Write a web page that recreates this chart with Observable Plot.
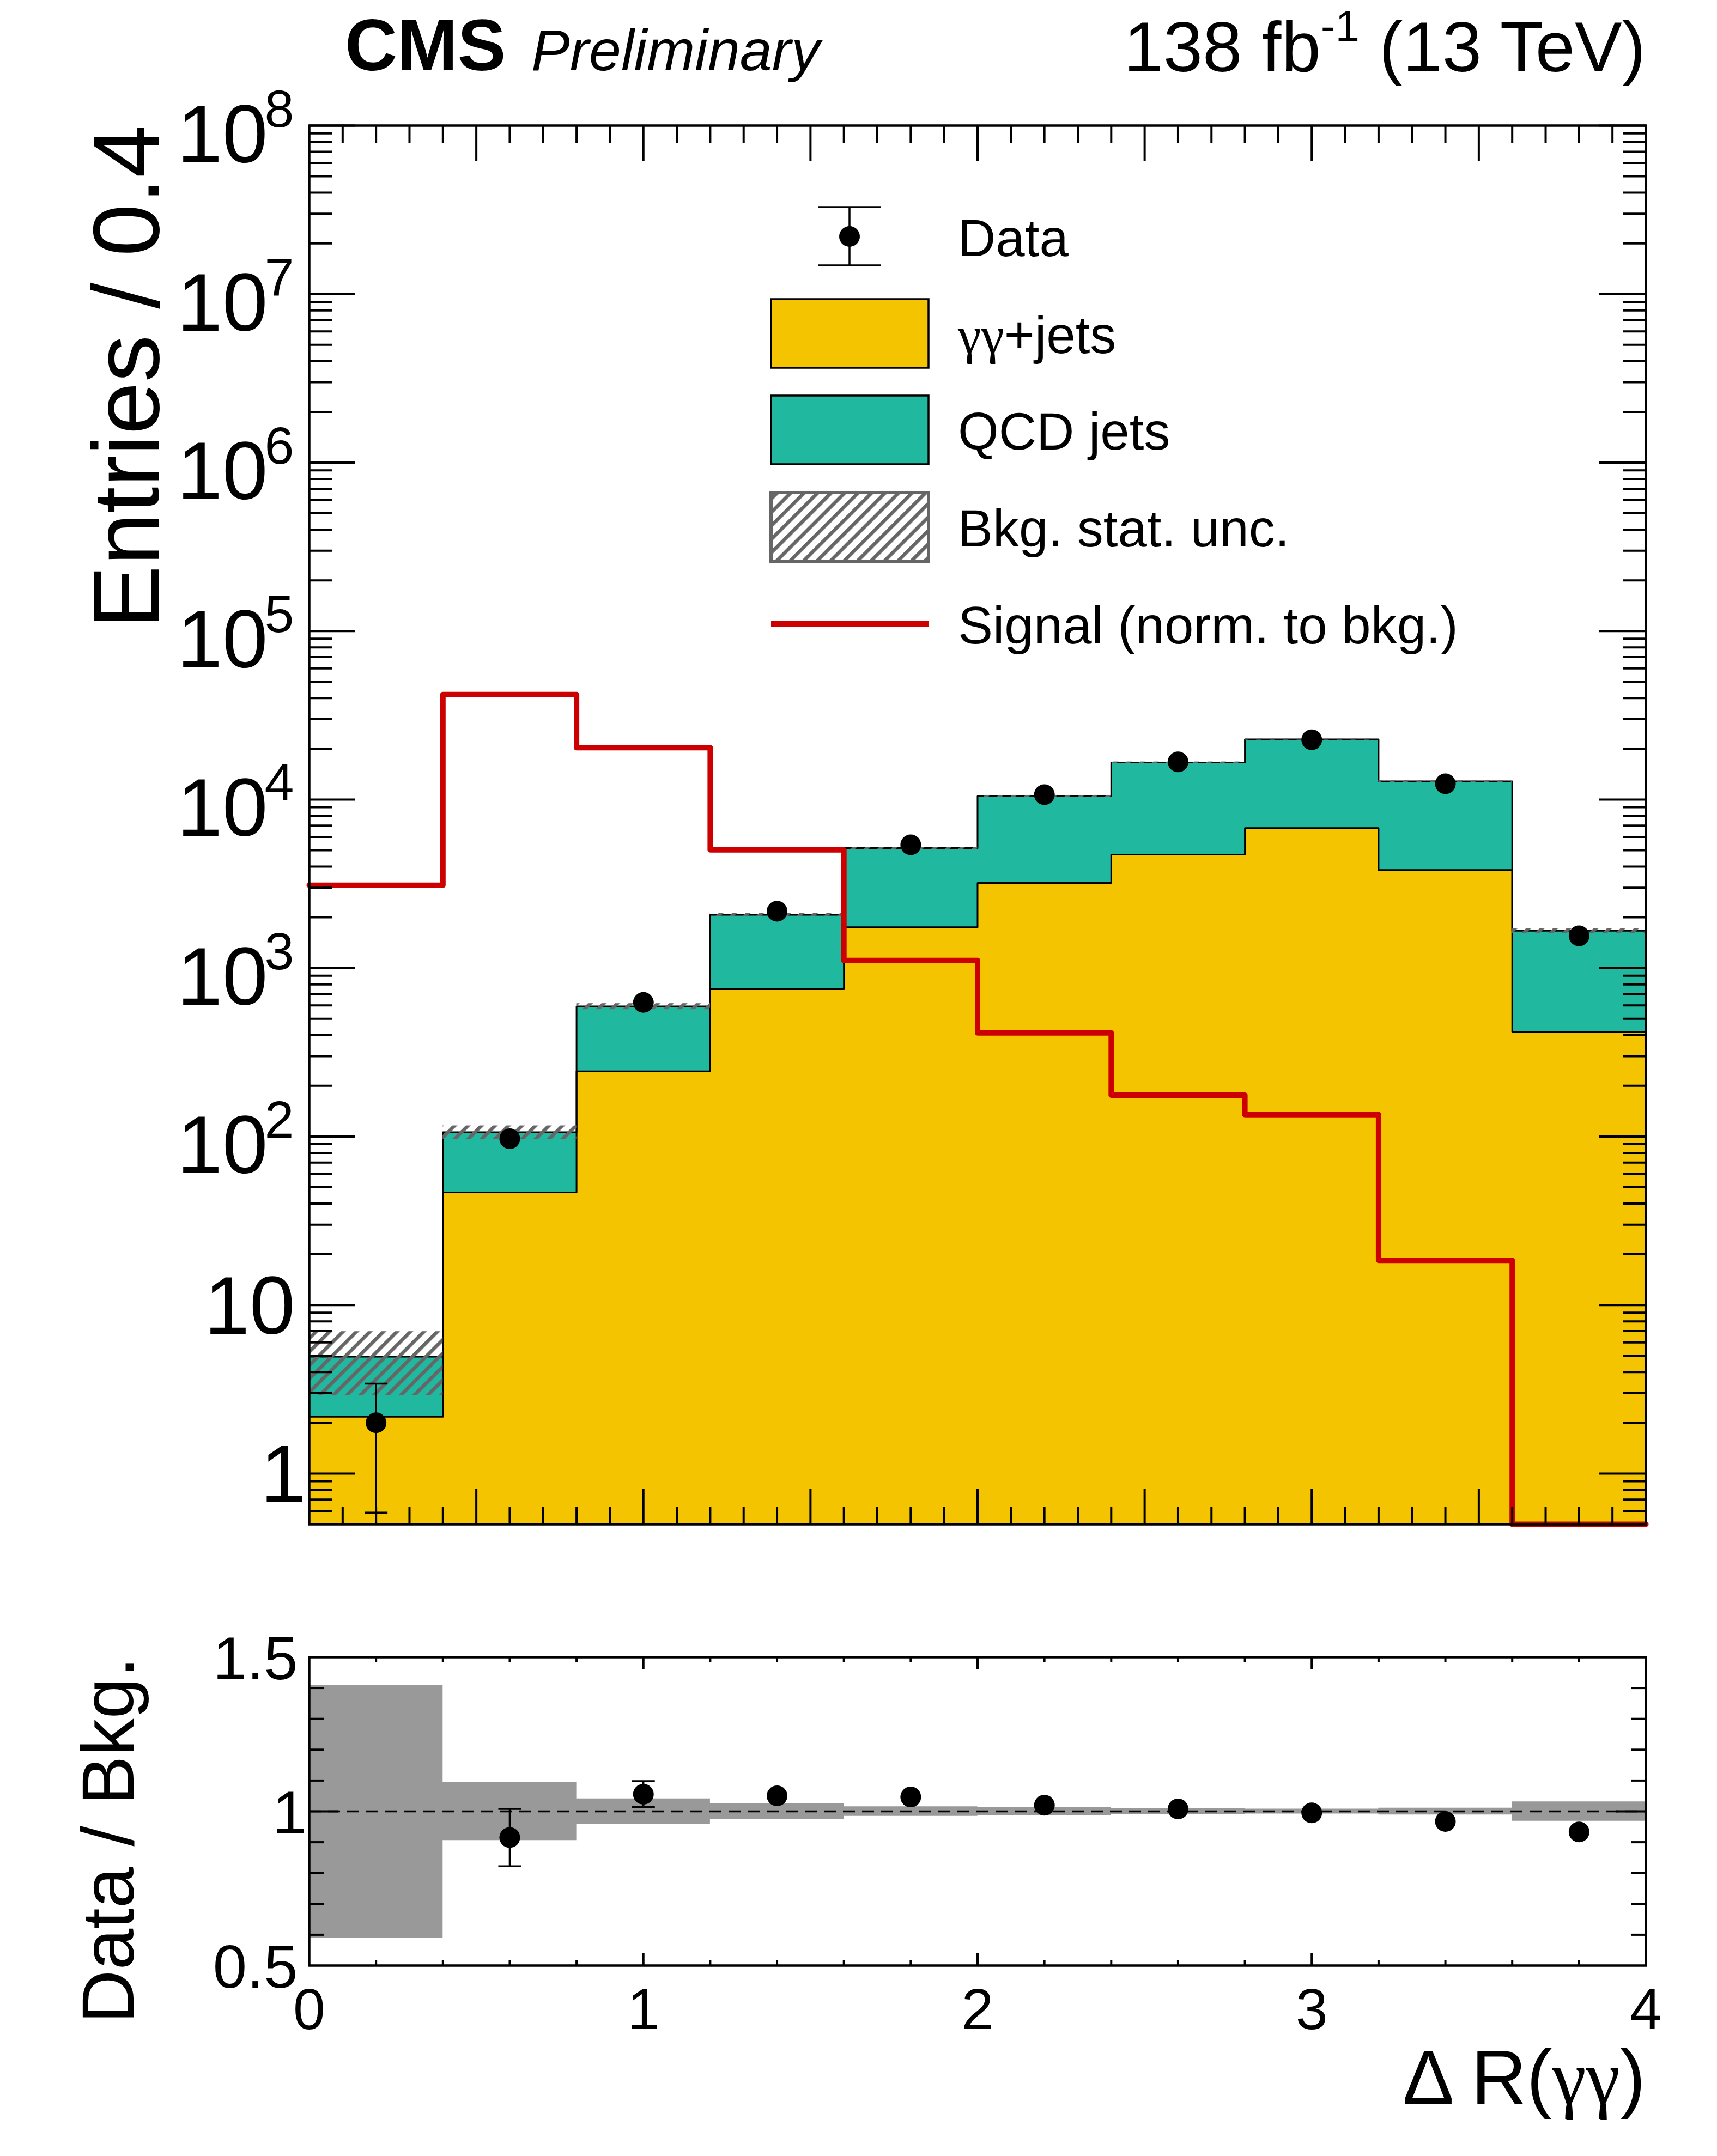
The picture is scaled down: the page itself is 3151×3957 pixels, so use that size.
<!DOCTYPE html>
<html><head><meta charset="utf-8">
<script src="https://cdn.jsdelivr.net/npm/d3@7"></script>
<script src="https://cdn.jsdelivr.net/npm/@observablehq/plot@0.6"></script>
<style>
html,body{margin:0;padding:0;background:#fff;}
#wrap{position:relative;width:3151px;height:3957px;overflow:hidden;background:#fff;}
#wrap > svg{position:absolute;left:0;}
</style></head>
<body><div id="wrap"></div>
<script>
// ---------------- data ----------------
const binEdges   = [0, 0.4, 0.8, 1.2, 1.6, 2.0, 2.4, 2.8, 3.2, 3.6, 4.0];
const gjets      = [2.17, 46.6, 244, 749, 1746, 3200, 4710, 6780, 3820, 419];       // γγ+jets
const qcd        = [2.77, 59.4, 348, 1321, 3404, 7280, 11890, 15970, 9000, 1245];  // QCD jets
const bkgRelUnc  = [0.41, 0.094, 0.041, 0.025, 0.0155, 0.013, 0.0095, 0.008, 0.011, 0.0315];
const dataCounts = [2, 97, 625, 2174, 5390, 10690, 16730, 22640, 12400, 1553];
const signal     = [3100, 42000, 20300, 5030, 1110, 412, 176, 135, 18.4, 0];

const yMainTickValues = [1, 10, 1e2, 1e3, 1e4, 1e5, 1e6, 1e7, 1e8];
const yMainTickBase   = ["1", "10", "10", "10", "10", "10", "10", "10", "10"];
const yMainTickExp    = ["", "", "2", "3", "4", "5", "6", "7", "8"];
const yRatioTickValues = [0.5, 1, 1.5];
const yRatioTickLabels = ["0.5", "1", "1.5"];
const xTickValues = [0, 1, 2, 3, 4];
const xTickLabels = ["0", "1", "2", "3", "4"];

const legendLabels = ["Data", "γγ+jets", "QCD jets", "Bkg. stat. unc.", "Signal (norm. to bkg.)"];

// ---------------- style ----------------
const FONT = "Liberation Sans, Arial, Helvetica, sans-serif";
const SERIF = "Liberation Serif, Times New Roman, serif";
const YELLOW = "#F4C400", TEAL = "#21B8A0", RED = "#CC0000", BAND = "#999999", HATCH = "#666666";
const W = 3151, ML = 567, MR = 131, FW = W - ML - MR;
const H1 = 2900, MT1 = 230, MB1 = 103, FH1 = H1 - MT1 - MB1;
const H2 = 1057, MT2 = 141, MB2 = 350, FH2 = H2 - MT2 - MB2;
const yMin = 0.5, yMax = 1e8;
const R = 19;

const bins = gjets.map((g, i) => {
  const tot = g + qcd[i];
  return {lo: binEdges[i], hi: binEdges[i + 1], mid: (binEdges[i] + binEdges[i + 1]) / 2,
    g, tot, rel: bkgRelUnc[i], unc: tot * bkgRelUnc[i],
    data: dataCounts[i], err: Math.sqrt(dataCounts[i]), sig: signal[i],
    ratio: dataCounts[i] / tot, rerr: Math.sqrt(dataCounts[i]) / tot};
});
// step contour points (each bin contributes its two edges)
const stepPts = bins.flatMap(b => [{...b, x: b.lo}, {...b, x: b.hi}]);

const cap = {draw(ctx) { ctx.moveTo(-21, 0); ctx.lineTo(21, 0); }};

// tick positions (axis structure)
const xMinorMain = d3.range(1, 40).map(i => i / 10).filter(v => Math.abs(v * 2 - Math.round(v * 2)) > 1e-6);
const xMajorMain = [0.5, 1, 1.5, 2, 2.5, 3, 3.5];
const yMinorMain = [];
for (let e = -1; e < 8; e++) for (let k = 2; k <= 9; k++) { const v = k * 10 ** e; if (v > yMin * 1.001 && v < yMax) yMinorMain.push(v); }
const xMinorRatio = d3.range(1, 20).map(i => i / 5).filter(v => Math.abs(v - Math.round(v)) > 1e-6);
const xMajorRatio = [1, 2, 3];
const yMinorRatio = d3.range(6, 15).map(i => i / 10).filter(v => Math.abs(v - 1) > 1e-6);

// error bars are drawn only when they stick out of the marker (ROOT behaviour)
const yMainPx = d3.scaleLog().domain([yMin, yMax]).range([H1 - MB1, MT1]);
const yRatioPx = d3.scaleLinear().domain([0.5, 1.5]).range([H2 - MB2, MT2]);
const mainErr = bins.filter(b => Math.abs(yMainPx(b.data + b.err) - yMainPx(b.data)) > R);
const ratioPts = bins.filter(b => b.ratio >= 0.5 && b.ratio <= 1.5);
const ratioErr = ratioPts.filter(b => Math.abs(yRatioPx(b.ratio + b.rerr) - yRatioPx(b.ratio)) > R);

const wrap = document.getElementById("wrap");

// ---------------- overlay (defs, titles, legend) ----------------
const ov = d3.create("svg").attr("width", W).attr("height", 3957)
  .style("top", "0px").style("z-index", 2).attr("font-family", FONT);
const defs = ov.append("defs");
const pat = defs.append("pattern").attr("id", "hatch").attr("patternUnits", "userSpaceOnUse")
  .attr("width", 17.5).attr("height", 17.5).attr("patternTransform", "rotate(45)");
pat.append("rect").attr("x", 0).attr("y", 0).attr("width", 6.5).attr("height", 17.5).attr("fill", HATCH);

function greekText(sel, str) {
  for (const part of str.split(/(γ+)/)) {
    if (!part) continue;
    const t = sel.append("tspan").text(part);
    if (/γ/.test(part)) t.attr("font-family", SERIF);
  }
}

ov.append("text").attr("x", 633).attr("y", 129).attr("font-weight", "bold").attr("font-size", 133).text("CMS");
ov.append("text").attr("x", 975).attr("y", 129).attr("font-style", "italic").attr("font-size", 106).text("Preliminary");
const lumi = ov.append("text").attr("x", 3020).attr("y", 131).attr("text-anchor", "end").attr("font-size", 130);
lumi.append("tspan").text("138 fb");
lumi.append("tspan").attr("dy", -56).attr("font-size", 80).text("-1");
lumi.append("tspan").attr("dy", 56).text(" (13 TeV)");

ov.append("text").attr("transform", "translate(291,230) rotate(-90)").attr("text-anchor", "end")
  .attr("font-size", 173).text("Entries / 0.4");
ov.append("text").attr("transform", "translate(245,3041) rotate(-90)").attr("text-anchor", "end")
  .attr("font-size", 136).text("Data / Bkg.");
const xt = ov.append("text").attr("x", 3020).attr("y", 3861).attr("text-anchor", "end").attr("font-size", 141);
greekText(xt, "Δ R(γγ)");

// legend
const lg = ov.append("g");
const rowY = [434, 612, 789, 967, 1145];
const boxX = 1415, boxW = 289, boxH = 126, textX = 1758;
lg.append("line").attr("x1", 1559).attr("x2", 1559).attr("y1", 380).attr("y2", 487).attr("stroke", "black").attr("stroke-width", 3.5);
lg.append("line").attr("x1", 1501).attr("x2", 1617).attr("y1", 380).attr("y2", 380).attr("stroke", "black").attr("stroke-width", 3.5);
lg.append("line").attr("x1", 1501).attr("x2", 1617).attr("y1", 487).attr("y2", 487).attr("stroke", "black").attr("stroke-width", 3.5);
lg.append("circle").attr("cx", 1559).attr("cy", rowY[0]).attr("r", R).attr("fill", "black");
lg.append("rect").attr("x", boxX).attr("y", rowY[1] - boxH / 2).attr("width", boxW).attr("height", boxH)
  .attr("fill", YELLOW).attr("stroke", "black").attr("stroke-width", 3.5);
lg.append("rect").attr("x", boxX).attr("y", rowY[2] - boxH / 2).attr("width", boxW).attr("height", boxH)
  .attr("fill", TEAL).attr("stroke", "black").attr("stroke-width", 3.5);
lg.append("rect").attr("x", boxX).attr("y", rowY[3] - boxH / 2).attr("width", boxW).attr("height", boxH)
  .attr("fill", "white");
lg.append("rect").attr("x", boxX).attr("y", rowY[3] - boxH / 2).attr("width", boxW).attr("height", boxH)
  .attr("fill", "url(#hatch)").attr("stroke", HATCH).attr("stroke-width", 6);
lg.append("line").attr("x1", boxX).attr("x2", boxX + boxW).attr("y1", rowY[4]).attr("y2", rowY[4])
  .attr("stroke", RED).attr("stroke-width", 10);
legendLabels.forEach((lab, i) => {
  const t = lg.append("text").attr("x", textX).attr("y", rowY[i] + 36).attr("font-size", 96);
  greekText(t, lab);
});

// ---------------- main panel ----------------
const yLab = yMainTickValues.map((v, i) => ({v, base: yMainTickBase[i], exp: yMainTickExp[i]}));
const tickStroke = {stroke: "black", strokeWidth: 4};

const main = Plot.plot({
  width: W, height: H1, marginLeft: ML, marginRight: MR, marginTop: MT1, marginBottom: MB1,
  x: {domain: [0, 4], axis: null},
  y: {type: "log", domain: [yMin, yMax], axis: null},
  style: {background: "transparent", fontFamily: FONT, overflow: "visible", maxWidth: "none"},
  marks: [
    Plot.areaY(stepPts, {x: "x", y1: yMin, y2: "g", fill: YELLOW}),
    Plot.areaY(stepPts, {x: "x", y1: "g", y2: "tot", fill: TEAL}),
    Plot.line(stepPts, {x: "x", y: "g", stroke: "black", strokeWidth: 3}),
    Plot.line(stepPts, {x: "x", y: "tot", stroke: "black", strokeWidth: 3}),
    Plot.rect(bins, {x1: "lo", x2: "hi", y1: d => d.tot - d.unc, y2: d => d.tot + d.unc, fill: "url(#hatch)"}),
    Plot.line(stepPts, {x: "x", y: d => Math.max(d.sig, yMin), stroke: RED, strokeWidth: 10}),
    Plot.ruleX(mainErr, {x: "mid", y1: d => d.data - d.err, y2: d => d.data + d.err, stroke: "black", strokeWidth: 3.5}),
    Plot.dot(mainErr, {x: "mid", y: d => d.data - d.err, symbol: cap, fill: "none", stroke: "black", strokeWidth: 3.5}),
    Plot.dot(mainErr, {x: "mid", y: d => d.data + d.err, symbol: cap, fill: "none", stroke: "black", strokeWidth: 3.5}),
    Plot.dot(bins, {x: "mid", y: "data", r: R, fill: "black"}),
    // ticks
    Plot.tickY(yMainTickValues, {y: d => d, insetRight: FW - 85, ...tickStroke}),
    Plot.tickY(yMainTickValues, {y: d => d, insetLeft: FW - 85, ...tickStroke}),
    Plot.tickY(yMinorMain, {y: d => d, insetRight: FW - 42, ...tickStroke}),
    Plot.tickY(yMinorMain, {y: d => d, insetLeft: FW - 42, ...tickStroke}),
    Plot.tickX(xMajorMain, {x: d => d, insetTop: FH1 - 65, ...tickStroke}),
    Plot.tickX(xMajorMain, {x: d => d, insetBottom: FH1 - 65, ...tickStroke}),
    Plot.tickX(xMinorMain, {x: d => d, insetTop: FH1 - 32, ...tickStroke}),
    Plot.tickX(xMinorMain, {x: d => d, insetBottom: FH1 - 32, ...tickStroke}),
    // tick labels
    Plot.text(yLab.filter(d => d.exp), {y: "v", text: "base", frameAnchor: "left", textAnchor: "end", lineAnchor: "bottom", dx: -76, dy: 67, fontSize: 150}),
    Plot.text(yLab.filter(d => d.exp), {y: "v", text: "exp", frameAnchor: "left", textAnchor: "start", lineAnchor: "bottom", dx: -82, dy: 2, fontSize: 97}),
    Plot.text(yLab.filter(d => !d.exp && d.base !== "1"), {y: "v", text: "base", frameAnchor: "left", textAnchor: "end", lineAnchor: "bottom", dx: -26, dy: 53, fontSize: 150}),
    Plot.text(yLab.filter(d => !d.exp && d.base === "1"), {y: "v", text: "base", frameAnchor: "left", textAnchor: "end", lineAnchor: "bottom", dx: -6, dy: 53, fontSize: 150}),
    Plot.frame({stroke: "black", strokeWidth: 4.5})
  ]
});
main.style.top = "0px";
main.style.zIndex = 1;

// ---------------- ratio panel ----------------
const yrLab = yRatioTickValues.map((v, i) => ({v, label: yRatioTickLabels[i]}));
const xLab = xTickValues.map((v, i) => ({v, label: xTickLabels[i]}));

const ratio = Plot.plot({
  width: W, height: H2, marginLeft: ML, marginRight: MR, marginTop: MT2, marginBottom: MB2,
  x: {domain: [0, 4], axis: null},
  y: {domain: [0.5, 1.5], axis: null},
  style: {background: "transparent", fontFamily: FONT, overflow: "visible", maxWidth: "none"},
  marks: [
    Plot.areaY(stepPts, {x: "x", y1: d => 1 - d.rel, y2: d => 1 + d.rel, fill: BAND}),
    Plot.ruleY([1], {stroke: "black", strokeWidth: 3.5, strokeDasharray: "22,13"}),
    Plot.ruleX(ratioErr, {x: "mid", y1: d => d.ratio - d.rerr, y2: d => d.ratio + d.rerr, stroke: "black", strokeWidth: 3.5}),
    Plot.dot(ratioErr, {x: "mid", y: d => d.ratio - d.rerr, symbol: cap, fill: "none", stroke: "black", strokeWidth: 3.5}),
    Plot.dot(ratioErr, {x: "mid", y: d => d.ratio + d.rerr, symbol: cap, fill: "none", stroke: "black", strokeWidth: 3.5}),
    Plot.dot(ratioPts, {x: "mid", y: "ratio", r: R, fill: "black"}),
    // ticks
    Plot.tickY([1], {y: d => d, insetRight: FW - 54, ...tickStroke}),
    Plot.tickY([1], {y: d => d, insetLeft: FW - 54, ...tickStroke}),
    Plot.tickY(yMinorRatio, {y: d => d, insetRight: FW - 27, ...tickStroke}),
    Plot.tickY(yMinorRatio, {y: d => d, insetLeft: FW - 27, ...tickStroke}),
    Plot.tickX(xMajorRatio, {x: d => d, insetTop: FH2 - 22, ...tickStroke}),
    Plot.tickX(xMajorRatio, {x: d => d, insetBottom: FH2 - 22, ...tickStroke}),
    Plot.tickX(xMinorRatio, {x: d => d, insetTop: FH2 - 10, ...tickStroke}),
    Plot.tickX(xMinorRatio, {x: d => d, insetBottom: FH2 - 10, ...tickStroke}),
    // labels
    Plot.text(yrLab.filter(d => d.label !== "1"), {y: "v", text: "label", frameAnchor: "left", textAnchor: "end", lineAnchor: "bottom", dx: -21, dy: 40, fontSize: 112}),
    Plot.text(yrLab.filter(d => d.label === "1"), {y: "v", text: "label", frameAnchor: "left", textAnchor: "end", lineAnchor: "bottom", dx: -5, dy: 40, fontSize: 112}),
    Plot.text(xLab, {x: "v", text: "label", frameAnchor: "bottom", textAnchor: "middle", lineAnchor: "bottom", dy: 116, fontSize: 106}),
    Plot.frame({stroke: "black", strokeWidth: 4.5})
  ]
});
ratio.style.top = "2900px";
ratio.style.zIndex = 1;

wrap.appendChild(ov.node());
wrap.appendChild(main);
wrap.appendChild(ratio);
</script>
</body></html>
